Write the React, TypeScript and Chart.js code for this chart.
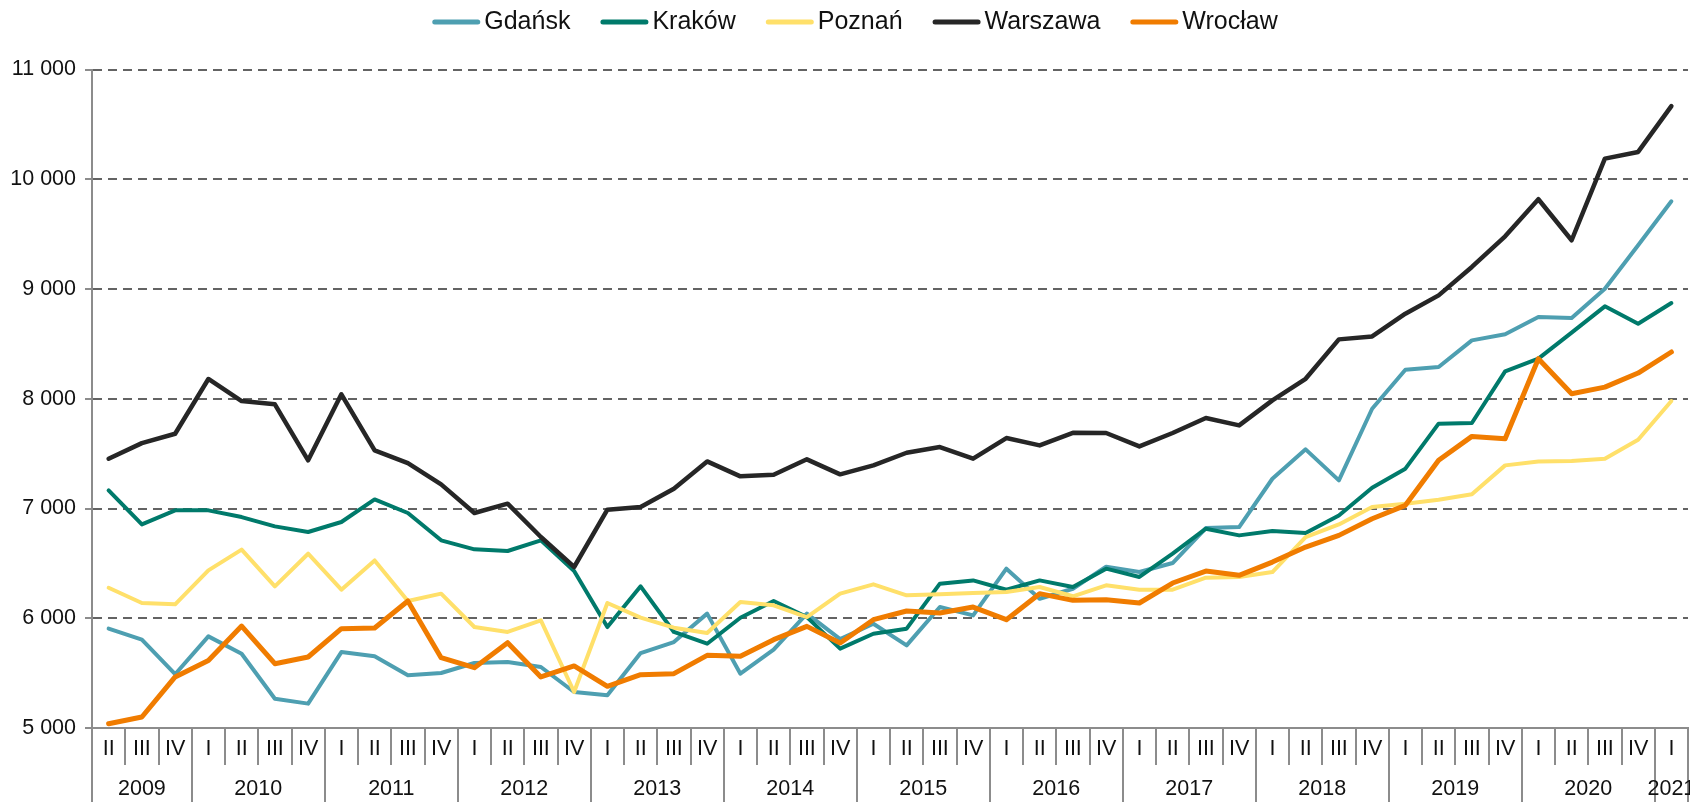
import React, { useEffect, useRef } from 'react';
import { Chart, registerables } from 'chart.js';

Chart.register(...registerables);

const FONT = '"Liberation Sans", Arial, Helvetica, sans-serif';

const quarterLabels = [
  'II', 'III', 'IV',
  'I', 'II', 'III', 'IV',
  'I', 'II', 'III', 'IV',
  'I', 'II', 'III', 'IV',
  'I', 'II', 'III', 'IV',
  'I', 'II', 'III', 'IV',
  'I', 'II', 'III', 'IV',
  'I', 'II', 'III', 'IV',
  'I', 'II', 'III', 'IV',
  'I', 'II', 'III', 'IV',
  'I', 'II', 'III', 'IV',
  'I', 'II', 'III', 'IV',
  'I',
];

const quarterYears = [
  '2009', '2009', '2009',
  '2010', '2010', '2010', '2010',
  '2011', '2011', '2011', '2011',
  '2012', '2012', '2012', '2012',
  '2013', '2013', '2013', '2013',
  '2014', '2014', '2014', '2014',
  '2015', '2015', '2015', '2015',
  '2016', '2016', '2016', '2016',
  '2017', '2017', '2017', '2017',
  '2018', '2018', '2018', '2018',
  '2019', '2019', '2019', '2019',
  '2020', '2020', '2020', '2020',
  '2021',
];

const yearLabels = ['2009', '2010', '2011', '2012', '2013', '2014', '2015', '2016', '2017', '2018', '2019', '2020', '2021'];

const gdansk = [
  5905, 5805, 5490,
  5835, 5677, 5267, 5222,
  5692, 5653, 5480, 5501,
  5592, 5601, 5556, 5328,
  5298, 5683, 5783, 6042,
  5495, 5714, 6042, 5810,
  5950, 5753, 6102, 6026,
  6452, 6178, 6269, 6470,
  6421, 6503, 6822, 6831,
  7271, 7539, 7256, 7909,
  8264, 8289, 8532, 8587,
  8745, 8736, 9003, 9398,
  9799,
];

const krakow = [
  7165, 6855, 6983,
  6983, 6922, 6837, 6786,
  6877, 7083, 6959, 6710,
  6628, 6613, 6710, 6430,
  5920, 6291, 5875, 5768,
  6005, 6157, 6010, 5723,
  5859, 5905, 6315, 6345,
  6260, 6345, 6285, 6452,
  6376, 6588, 6816, 6755,
  6795, 6777, 6937, 7189,
  7363, 7773, 7779, 8249,
  8365, 8602, 8842, 8684,
  8872,
];

const poznan = [
  6278, 6139, 6127,
  6436, 6625, 6291, 6588,
  6260, 6527, 6157, 6224,
  5920, 5875, 5981, 5328,
  6139, 6005, 5914, 5865,
  6148, 6118, 6011, 6224,
  6309, 6209, 6218, 6230,
  6239, 6285, 6200, 6300,
  6260, 6260, 6370, 6376,
  6421, 6740, 6855, 7013,
  7044, 7080, 7129, 7393,
  7429, 7432, 7454, 7627,
  7979,
];

const warszawa = [
  7454, 7596, 7681,
  8180, 7979, 7949, 7439,
  8040, 7530, 7414, 7220,
  6959, 7044, 6740, 6467,
  6989, 7013, 7180, 7429,
  7293, 7308, 7448, 7311,
  7393, 7508, 7560, 7454,
  7642, 7575, 7690, 7688,
  7566, 7688, 7824, 7757,
  7985, 8182, 8541, 8568,
  8775, 8942, 9201, 9480,
  9818, 9444, 10188, 10249,
  10666,
];

const wroclaw = [
  5039, 5100, 5465,
  5616, 5929, 5586, 5647,
  5905, 5911, 6157, 5641,
  5550, 5777, 5465, 5565,
  5380, 5486, 5495, 5662,
  5653, 5805, 5926, 5774,
  5987, 6066, 6048, 6102,
  5987, 6224, 6163, 6169,
  6139, 6321, 6430, 6391,
  6512, 6649, 6755, 6907,
  7029, 7439, 7657, 7636,
  8365, 8046, 8106, 8234,
  8426,
];

const seriesNames = ['Gdańsk', 'Kraków', 'Poznań', 'Warszawa', 'Wrocław'];
const seriesData = [gdansk, krakow, poznan, warszawa, wroclaw];
const seriesColors = ['#4E9FB1', '#007A6B', '#FFE06A', '#262626', '#F07C00'];
const seriesWidths = [4, 4, 4, 4.5, 5];

const yMin = 5000;
const yMax = 11000;
const yStep = 1000;

const AXIS_COLOR = '#8C8C8C';
const GRID_COLOR = '#636363';
const TEXT_COLOR = '#111111';
const AXIS_FONT_SIZE = 21.5;
const LEGEND_FONT_SIZE = 25;

const formatThousands = (v: number) => String(v).replace(/\B(?=(\d{3})+(?!\d))/g, ' ');

const customLegend = {
  id: 'customLegend',
  afterDraw(chart: any) {
    const ctx = chart.ctx as CanvasRenderingContext2D;
    ctx.save();
    ctx.font = `${LEGEND_FONT_SIZE}px ${FONT}`;
    const lineLen = 48;
    const gapText = 4;
    const gapItem = 30;
    const widths = seriesNames.map((n) => ctx.measureText(n).width);
    const total = widths.reduce((a, w) => a + lineLen + gapText + w, 0) + gapItem * (seriesNames.length - 1);
    let x = chart.width / 2 + 10 - total / 2;
    const y = 22;
    seriesNames.forEach((name, i) => {
      ctx.beginPath();
      ctx.strokeStyle = seriesColors[i];
      ctx.lineWidth = 5;
      ctx.lineCap = 'round';
      ctx.moveTo(x + 2.5, y);
      ctx.lineTo(x + lineLen - 2.5, y);
      ctx.stroke();
      ctx.fillStyle = TEXT_COLOR;
      ctx.textAlign = 'left';
      ctx.textBaseline = 'middle';
      ctx.fillText(name, x + lineLen + gapText, y);
      x += lineLen + gapText + widths[i] + gapItem;
    });
    ctx.restore();
  },
};

const groupedAxis = {
  id: 'groupedAxis',
  afterDraw(chart: any) {
    const ctx = chart.ctx as CanvasRenderingContext2D;
    const xs = chart.scales.x;
    const n = quarterLabels.length;
    const half = (xs.getPixelForValue(1) - xs.getPixelForValue(0)) / 2;
    const top = chart.chartArea.bottom;
    const shortBottom = top + 37;
    const fullBottom = chart.height;
    ctx.save();
    ctx.strokeStyle = AXIS_COLOR;
    ctx.lineWidth = 2;
    for (let i = 0; i <= n; i++) {
      const bx = i < n ? xs.getPixelForValue(i) - half : xs.getPixelForValue(n - 1) + half;
      const isYear = i === 0 || i === n || quarterYears[i] !== quarterYears[i - 1];
      const px = Math.round(bx);
      ctx.beginPath();
      ctx.moveTo(px, top);
      ctx.lineTo(px, isYear ? fullBottom : shortBottom);
      ctx.stroke();
    }
    ctx.fillStyle = TEXT_COLOR;
    ctx.font = `${AXIS_FONT_SIZE}px ${FONT}`;
    ctx.textAlign = 'center';
    ctx.textBaseline = 'middle';
    yearLabels.forEach((yr) => {
      const first = quarterYears.indexOf(yr);
      const last = quarterYears.lastIndexOf(yr);
      const x0 = xs.getPixelForValue(first) - half;
      const x1 = xs.getPixelForValue(last) + half;
      ctx.fillText(yr, (x0 + x1) / 2, top + 61);
    });
    ctx.restore();
  },
};

export default function App() {
  const canvasRef = useRef<HTMLCanvasElement | null>(null);

  useEffect(() => {
    if (!canvasRef.current) return;
    Chart.defaults.font.family = FONT;
    const chart = new Chart(canvasRef.current, {
      type: 'line',
      data: {
        labels: quarterLabels,
        datasets: seriesNames.map((name, i) => ({
          label: name,
          data: seriesData[i],
          borderColor: seriesColors[i],
          backgroundColor: seriesColors[i],
          borderWidth: seriesWidths[i],
          pointRadius: 0,
          pointHoverRadius: 0,
          tension: 0,
          fill: false,
          borderJoinStyle: 'round',
          borderCapStyle: 'round',
          order: seriesNames.length - i,
        })),
      },
      options: {
        responsive: false,
        animation: false,
        events: [],
        layout: { padding: { top: 69.5, right: 2, bottom: 0, left: 0 } },
        plugins: {
          legend: { display: false },
          tooltip: { enabled: false },
          title: { display: false },
        },
        scales: {
          x: {
            type: 'category',
            offset: true,
            grid: { display: false },
            border: { display: true, color: AXIS_COLOR, width: 2 },
            ticks: {
              autoSkip: false,
              maxRotation: 0,
              minRotation: 0,
              padding: 0,
              color: TEXT_COLOR,
              font: { family: FONT, size: AXIS_FONT_SIZE },
            },
            afterFit: (scale: any) => {
              scale.height = 74;
            },
          },
          y: {
            min: yMin,
            max: yMax,
            border: { display: true, color: AXIS_COLOR, width: 2, dash: [9, 6] },
            grid: {
              color: GRID_COLOR,
              lineWidth: 2,
              drawTicks: true,
              tickLength: 7,
              tickColor: AXIS_COLOR,
              tickWidth: 2,
              tickBorderDash: [],
            },
            ticks: {
              stepSize: yStep,
              padding: 9,
              color: TEXT_COLOR,
              font: { family: FONT, size: AXIS_FONT_SIZE },
              callback: (v: any) => formatThousands(Number(v)),
            },
            afterFit: (scale: any) => {
              scale.width = 92;
            },
          },
        },
      },
      plugins: [customLegend, groupedAxis],
    } as any);
    return () => chart.destroy();
  }, []);

  return (
    <div style={{ position: 'fixed', left: 0, top: 0, width: 1690, height: 802, background: '#ffffff' }}>
      <canvas ref={canvasRef} width={1690} height={802} style={{ display: 'block' }} />
    </div>
  );
}
